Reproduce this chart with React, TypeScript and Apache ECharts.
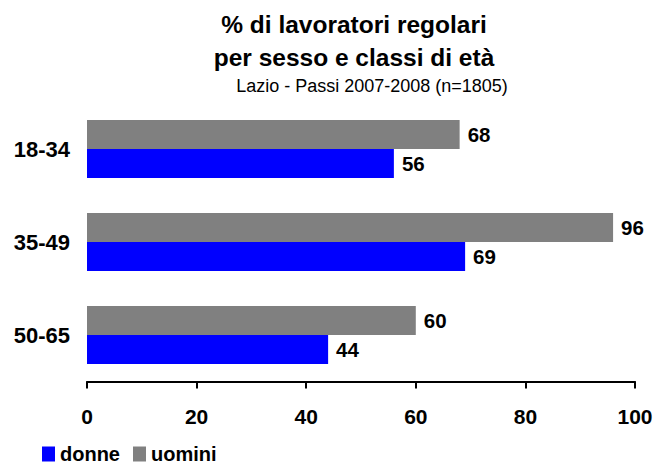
import React, { useEffect, useRef } from "react";
import * as echarts from "echarts";

const categories = ["18-34", "35-49", "50-65"];
const donne = [56, 69, 44];
const uomini = [68, 96, 60];
const xTicks = [0, 20, 40, 60, 80, 100];

export default function App() {
  const ref = useRef<HTMLDivElement>(null);
  useEffect(() => {
    const chart = echarts.init(ref.current!, undefined, { renderer: "svg" });
    const font = "Liberation Sans, Arial, sans-serif";
    const valueLabel = {
      show: true,
      position: "right",
      distance: 8,
      fontFamily: font,
      fontWeight: "bold",
      fontSize: 20.5,
      color: "#000",
    };
    chart.setOption({
      animation: false,
      textStyle: { fontFamily: font },
      title: [
        {
          text: "% di lavoratori regolari\nper sesso e classi di età",
          left: 349,
          top: 3,
          textAlign: "center",
          textStyle: { fontFamily: font, fontWeight: "bold", fontSize: 24.5, lineHeight: 33, color: "#000" },
        },
        {
          text: "Lazio - Passi 2007-2008 (n=1805)",
          left: 367,
          top: 72,
          textAlign: "center",
          textStyle: { fontFamily: font, fontWeight: "normal", fontSize: 18, color: "#000" },
        },
      ],
      legend: {
        left: 42,
        top: 444,
        padding: 0,
        itemWidth: 13,
        itemHeight: 15,
        itemGap: 13,
        icon: "rect",
        data: ["donne", "uomini"],
        textStyle: { fontFamily: font, fontWeight: "bold", fontSize: 20, lineHeight: 16, color: "#000" },
      },
      grid: { left: 87, right: 26, top: 102.5, bottom: 84.5, containLabel: false },
      xAxis: {
        type: "value",
        min: 0,
        max: 100,
        interval: 20,
        axisLine: { show: true, lineStyle: { color: "#000", width: 2 } },
        axisTick: { show: true, length: 7, lineStyle: { color: "#000", width: 2 } },
        splitLine: { show: false },
        axisLabel: {
          margin: 24,
          fontFamily: font,
          fontWeight: "bold",
          fontSize: 21,
          color: "#000",
          formatter: (v: number) => (xTicks.includes(v) ? String(v) : ""),
        },
      },
      yAxis: {
        type: "category",
        data: categories,
        inverse: true,
        axisLine: { show: false },
        axisTick: { show: false },
        axisLabel: { margin: 17, fontFamily: font, fontWeight: "bold", fontSize: 22, color: "#000" },
      },
      series: [
        {
          name: "uomini",
          type: "bar",
          data: uomini,
          barGap: "0%",
          barCategoryGap: "37.6%",
          itemStyle: { color: "#808080" },
          label: valueLabel,
        },
        {
          name: "donne",
          type: "bar",
          data: donne,
          barGap: "0%",
          barCategoryGap: "37.6%",
          itemStyle: { color: "#0000ff" },
          label: valueLabel,
        },
      ],
    });
    return () => chart.dispose();
  }, []);
  return (
    <div
      ref={ref}
      style={{ position: "absolute", left: 0, top: 0, width: 661, height: 466, background: "#fff" }}
    />
  );
}
